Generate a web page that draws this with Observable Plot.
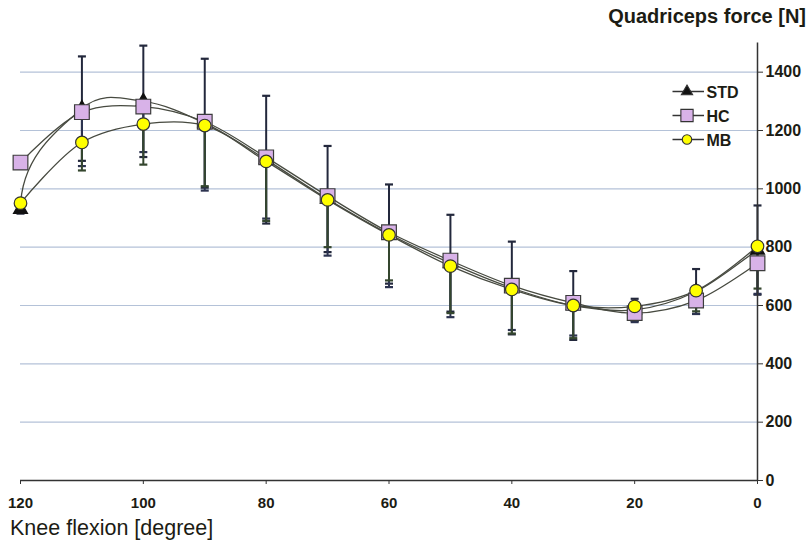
<!DOCTYPE html>
<html><head><meta charset="utf-8">
<script src="https://cdn.jsdelivr.net/npm/d3@7"></script>
<script src="https://cdn.jsdelivr.net/npm/@observablehq/plot@0.6"></script>
<style>
body{margin:0;background:#fff;}
#wrap{position:relative;width:811px;height:548px;font-family:"Liberation Sans",Arial,sans-serif;color:#1c1c14;}
.t{position:absolute;white-space:nowrap;line-height:1;}
</style></head>
<body><div id="wrap"></div>
<script>
const angles = [120,110,100,90,80,70,60,50,40,30,20,10,0];
const stdVals = [930,1275,1300,1225,1100,965,845,745,660,600,585,648,790];
const hcVals  = [1090,1263,1282,1230,1108,975,851,754,668,609,574,617,745];
const mbVals  = [951,1159,1222,1217,1094,962,842,735,655,600,597,651,803];
const stdErr = [15,179,191,221,219,182,170,166,159,118,38,77,153];
const hcErr  = [20,185,156,236,210,204,188,194,152,112,31,46,105];
const mbErr  = [20,96,139,208,204,162,156,161,151,112,47,71,145];
const yTicks = [0,200,400,600,800,1000,1200,1400];
const xTicks = [120,100,80,60,40,20,0];
const seriesNames = ["STD","HC","MB"];

const rows = (vals, err, name) => angles.map((a,i)=>({a, v: vals[i], e: err[i], name}));
const std = rows(stdVals, stdErr, "STD");
const hc = rows(hcVals, hcErr, "HC");
const mb = rows(mbVals, mbErr, "MB");

const cap = {draw(ctx, size){ const r = Math.sqrt(size/Math.PI); ctx.moveTo(-r,0); ctx.lineTo(r,0);} };
const font = '"Liberation Sans",Arial,sans-serif';
const lineCol = "#474a40";

// Smooth (Catmull-Rom style Bezier) curve whose first tangent is vertical, as the spreadsheet smoothing drew the STD line
function curveVerticalStart(context){
  let pts = [];
  return {
    areaStart(){}, areaEnd(){},
    lineStart(){ pts = []; },
    point(x, y){ pts.push([+x, +y]); },
    lineEnd(){
      const n = pts.length;
      if (!n) return;
      context.moveTo(pts[0][0], pts[0][1]);
      const tan = (i) => {
        if (i === 0) return [0, (pts[1][1]-pts[0][1]) * 1.6];
        if (i === n-1) return [pts[n-1][0]-pts[n-2][0], pts[n-1][1]-pts[n-2][1]];
        return [(pts[i+1][0]-pts[i-1][0])/2, (pts[i+1][1]-pts[i-1][1])/2];
      };
      for (let i = 0; i < n-1; i++){
        const t0 = tan(i), t1 = tan(i+1);
        context.bezierCurveTo(pts[i][0]+t0[0]/3, pts[i][1]+t0[1]/3, pts[i+1][0]-t1[0]/3, pts[i+1][1]-t1[1]/3, pts[i+1][0], pts[i+1][1]);
      }
    }
  };
}

const plot = Plot.plot({
  width: 811, height: 548,
  marginLeft: 20, marginRight: 54, marginTop: 42.5, marginBottom: 68,
  style: {fontFamily: font, background: "transparent", color: "#1c1c14"},
  x: {domain: [120, 0]},
  y: {domain: [0, 1500]},
  marks: [
    Plot.gridY(yTicks.filter(d=>d>0), {stroke: "#b4c2d8", strokeOpacity: 1, strokeWidth: 1.2}),
    // error bars
    Plot.ruleX(std, {x: "a", y1: d=>d.v-d.e, y2: d=>d.v+d.e, stroke: "#23283c", strokeWidth: 2}),
    Plot.dot(std, {x: "a", y: d=>d.v+d.e, symbol: cap, r: 4, stroke: "#23283c", strokeWidth: 2.2}),
    Plot.dot(std, {x: "a", y: d=>d.v-d.e, symbol: cap, r: 4, stroke: "#23283c", strokeWidth: 2.2}),
    Plot.ruleX(hc, {x: "a", y1: d=>d.v-d.e, y2: "v", stroke: "#2c3350", strokeWidth: 2}),
    Plot.dot(hc, {x: "a", y: d=>d.v-d.e, symbol: cap, r: 4, stroke: "#2c3350", strokeWidth: 2.2}),
    Plot.ruleX(mb, {x: "a", y1: d=>d.v-d.e, y2: "v", stroke: "#34462e", strokeWidth: 2}),
    Plot.dot(mb, {x: "a", y: d=>d.v-d.e, symbol: cap, r: 4, stroke: "#34462e", strokeWidth: 2.2}),
    // axes lines
    Plot.ruleY([0], {stroke: "#333", strokeWidth: 1.5}),
    Plot.ruleX([0], {stroke: "#333", strokeWidth: 1.5}),
    Plot.axisX({ticks: xTicks, tickSize: 4, tickPadding: 13, fontSize: 15, fontWeight: "bold", label: null, stroke: "#333", tickFormat: d=>String(d)}),
    Plot.axisY({ticks: yTicks, anchor: "right", tickSize: 5, tickPadding: 3, fontSize: 16, fontWeight: "bold", label: null, stroke: "#333", tickFormat: d=>String(d)}),
    // lines
    Plot.line(std, {x: "a", y: "v", curve: curveVerticalStart, stroke: lineCol, strokeWidth: 1.3}),
    Plot.line(hc, {x: "a", y: "v", curve: "catmull-rom", stroke: lineCol, strokeWidth: 1.3}),
    Plot.line(mb, {x: "a", y: "v", curve: "catmull-rom", stroke: lineCol, strokeWidth: 1.3}),
    // markers
    Plot.dot(std, {x: "a", y: "v", symbol: "triangle", r: 5, fill: "#111", stroke: "#111"}),
    Plot.dot(hc, {x: "a", y: "v", symbol: "square", r: 8.3, fill: "#d8b2e8", stroke: "#3c3c3c", strokeWidth: 1.2}),
    Plot.dot(mb, {x: "a", y: "v", symbol: "circle", r: 6.3, fill: "#ffff00", stroke: "#333", strokeWidth: 1.2})
  ]
});
const wrap = document.getElementById("wrap");
wrap.appendChild(plot);
plot.style.position = "absolute"; plot.style.left = "0"; plot.style.top = "0";

function addText(txt, css){ const d = document.createElement("div"); d.className="t"; d.textContent = txt; Object.assign(d.style, css); wrap.appendChild(d); }
addText("Quadriceps force [N]", {right: "5px", top: "6px", fontSize: "20px", fontWeight: "bold"});
addText("Knee flexion [degree]", {left: "10px", top: "518px", fontSize: "21.5px"});

// legend overlay
const lg = d3.select(wrap).append("svg").attr("width", 100).attr("height", 70)
  .style("position","absolute").style("left","668px").style("top","80px");
const sym = {STD: d3.symbol(d3.symbolTriangle, 55), HC: d3.symbol(d3.symbolSquare, 150), MB: d3.symbol(d3.symbolCircle, 70)};
const fills = {STD: "#111", HC: "#d8b2e8", MB: "#ffff00"};
seriesNames.forEach((n,i)=>{
  const g = lg.append("g").attr("transform", `translate(0,${11.5 + i*24})`);
  g.append("line").attr("x1",4.5).attr("x2",36).attr("stroke","#333").attr("stroke-width",1.5);
  g.append("path").attr("d", sym[n]()).attr("transform","translate(19,0)").attr("fill",fills[n]).attr("stroke","#333").attr("stroke-width",1.1);
  g.append("text").attr("x",38.5).attr("y",6).text(n).attr("font-family",font).attr("font-size",16).attr("font-weight","bold").attr("fill","#1c1c14");
});
</script></body></html>
